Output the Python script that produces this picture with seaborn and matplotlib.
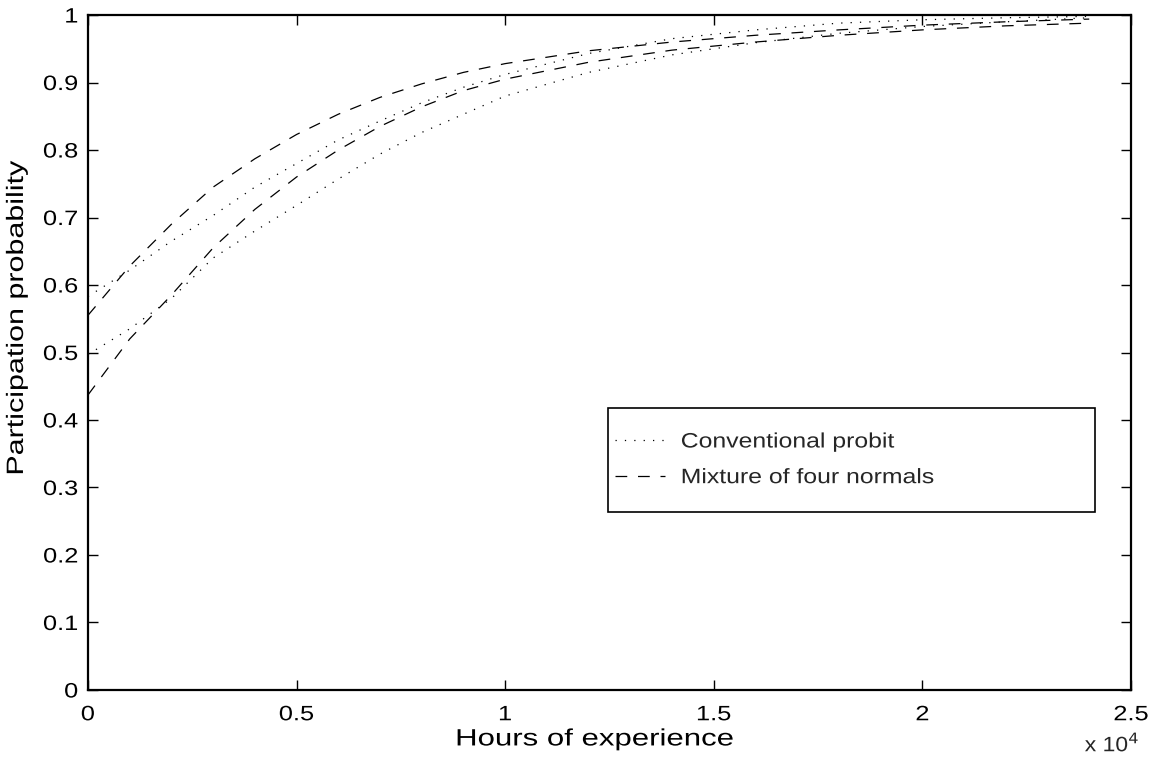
import matplotlib
matplotlib.use("Agg")
import matplotlib.pyplot as plt
from matplotlib.lines import Line2D
from matplotlib.patches import Rectangle
from matplotlib.patheffects import AbstractPathEffect
from matplotlib.transforms import Affine2D
from matplotlib.ticker import FuncFormatter
import pandas as pd
import seaborn as sns

# Hours of experience at which the participation probability is evaluated
hours = [0, 1000, 2000, 3000, 4000, 5000, 6000, 7000, 8000, 9000, 10000,
         12000, 14000, 16000, 18000, 20000, 22000, 24000]

# Conventional probit: upper and lower curves
probit_upper = [0.583, 0.622, 0.665, 0.703, 0.745, 0.780, 0.815, 0.843, 0.870,
                0.893, 0.912, 0.943, 0.965, 0.978, 0.988, 0.993, 0.996, 0.998]
probit_lower = [0.497, 0.535, 0.580, 0.640, 0.680, 0.718, 0.757, 0.794, 0.826,
                0.853, 0.880, 0.915, 0.941, 0.959, 0.973, 0.983, 0.990, 0.996]

# Mixture of four normals: upper and lower curves
mixture_upper = [0.555, 0.628, 0.690, 0.745, 0.787, 0.823, 0.853, 0.878, 0.898,
                 0.915, 0.928, 0.947, 0.960, 0.970, 0.978, 0.985, 0.990, 0.994]
mixture_lower = [0.437, 0.520, 0.585, 0.655, 0.712, 0.760, 0.800, 0.835, 0.864,
                 0.888, 0.905, 0.930, 0.948, 0.960, 0.970, 0.978, 0.984, 0.988]

model_labels = ["Conventional probit", "Mixture of four normals"]
x_ticks = [0, 5000, 10000, 15000, 20000, 25000]
y_ticks = [0, 0.1, 0.2, 0.3, 0.4, 0.5, 0.6, 0.7, 0.8, 0.9, 1.0]


class Widen(AbstractPathEffect):
    """Draw text glyphs widened along the writing direction."""

    def __init__(self, factor, anchor="center"):
        super().__init__()
        self.factor = factor
        self.anchor = anchor

    def draw_path(self, renderer, gc, tpath, affine, rgbFace=None):
        ext = tpath.get_extents()
        x0 = {"left": 0.0, "center": 0.5 * (ext.x0 + ext.x1),
              "right": ext.x1}[self.anchor]
        stretch = Affine2D().translate(-x0, 0).scale(self.factor, 1).translate(x0, 0)
        renderer.draw_path(gc, tpath, stretch + affine, rgbFace)


curves = {
    (model_labels[0], "upper"): probit_upper,
    (model_labels[0], "lower"): probit_lower,
    (model_labels[1], "upper"): mixture_upper,
    (model_labels[1], "lower"): mixture_lower,
}
frames = []
for (model, bound), vals in curves.items():
    frames.append(pd.DataFrame({"hours": hours, "prob": vals,
                                "model": model, "curve": f"{model} {bound}"}))
df = pd.concat(frames, ignore_index=True)

sns.set_theme(style="white")
plt.rcParams["font.family"] = ["Liberation Sans", "DejaVu Sans"]
plt.rcParams["xtick.direction"] = "in"
plt.rcParams["ytick.direction"] = "in"

fig = plt.figure(figsize=(11.57, 7.63), dpi=100)
ax = fig.add_axes([0.076, 0.0957, 0.9015, 0.8846])

dotted = (1, 6.5)
dashed = (9.4, 8.6)
sns.lineplot(data=df, x="hours", y="prob", style="model", units="curve",
             estimator=None, color="black", linewidth=0.9,
             dashes={model_labels[0]: dotted, model_labels[1]: dashed},
             legend=False, ax=ax, sort=False)

ax.set_xlim(0, 25000)
ax.set_ylim(0, 1)
ax.set_xticks(x_ticks)
ax.set_yticks(y_ticks)
ax.xaxis.set_major_formatter(FuncFormatter(lambda v, p: f"{v / 1e4:g}"))
ax.yaxis.set_major_formatter(FuncFormatter(lambda v, p: f"{v:g}"))
ax.tick_params(axis="both", which="major", length=7, width=1.0, color="black",
               labelsize=15, labelcolor="black", top=True, right=True,
               bottom=True, left=True)
ax.tick_params(axis="x", pad=11)
ax.tick_params(axis="y", pad=7)
for s in ax.spines.values():
    s.set_visible(True)
    s.set_color("black")
    s.set_linewidth(1.6)
ax.grid(False)

for lbl in ax.get_xticklabels():
    lbl.set_path_effects([Widen(1.22, "center")])
for lbl in ax.get_yticklabels():
    lbl.set_path_effects([Widen(1.22, "right")])

ax.set_xlabel("Hours of experience", fontsize=17, color="black",
              path_effects=[Widen(1.32, "center")])
ax.set_ylabel("Participation probability", fontsize=17, color="black",
              path_effects=[Widen(1.29, "center")])
ax.xaxis.set_label_coords(0.486, -0.057)
ax.yaxis.set_label_coords(-0.0575, 0.552)
fig.text(0.985, 0.010, r"x 10$^{4}$", ha="right", va="bottom", fontsize=15,
         path_effects=[Widen(1.1, "right")])

# Legend box
ax.add_patch(Rectangle((0.4986, 0.263), 0.467, 0.155, transform=ax.transAxes,
                       fill=False, edgecolor="black", linewidth=1.2, zorder=5))
handles = [Line2D([], [], color="black", linewidth=0.9, dashes=dotted),
           Line2D([], [], color="black", linewidth=0.9, dashes=dashed)]
leg = ax.legend(handles, model_labels, loc="center left",
                bbox_to_anchor=(0.505, 0.341), frameon=False, fontsize=15,
                handlelength=2.4, handletextpad=0.77, labelspacing=0.8,
                borderpad=0.0, borderaxespad=0.0)
for t in leg.get_texts():
    t.set_path_effects([Widen(1.19, "left")])

fig.savefig("out.png", dpi=100, facecolor="white")
